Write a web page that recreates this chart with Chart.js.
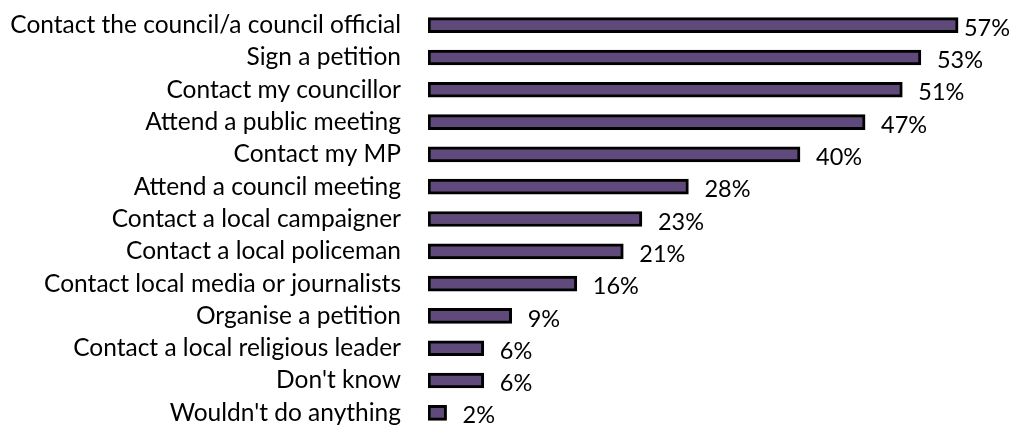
<!DOCTYPE html>
<html>
<head>
<meta charset="utf-8">
<script src="https://cdn.jsdelivr.net/npm/chart.js@4.4.1/dist/chart.umd.min.js"></script>
<style>
  html, body { margin: 0; padding: 0; background: #fff; overflow: hidden; width: 1015px; height: 428px; }
  #wrap { position: relative; width: 1015px; height: 440px; }
</style>
</head>
<body>
<div id="wrap"><canvas id="chart"></canvas></div>
<script>
// Actions people would take on a local issue (% of respondents)
const categories = [
  "Contact the council/a council official",
  "Sign a petition",
  "Contact my councillor",
  "Attend a public meeting",
  "Contact my MP",
  "Attend a council meeting",
  "Contact a local campaigner",
  "Contact a local policeman",
  "Contact local media or journalists",
  "Organise a petition",
  "Contact a local religious leader",
  "Don't know",
  "Wouldn't do anything"
];
const percentValues = [57, 53, 51, 47, 40, 28, 23, 21, 16, 9, 6, 6, 2];
const valueLabels = percentValues.map(v => v + "%");

const FONT_FAMILY = "Lato, 'Open Sans', sans-serif";

// Writes the percentage just past the end of each bar
const valueLabelPlugin = {
  id: "valueLabels",
  afterDatasetsDraw(chart) {
    const ctx = chart.ctx;
    const meta = chart.getDatasetMeta(0);
    ctx.save();
    ctx.font = "23.5px " + FONT_FAMILY;
    ctx.fillStyle = "#000";
    ctx.textAlign = "left";
    ctx.textBaseline = "middle";
    meta.data.forEach((bar, i) => {
      const text = valueLabels[i];
      const w = ctx.measureText(text).width;
      let x = bar.x + 16;
      if (x + w > chart.width - 5) x = chart.width - 5 - w;
      ctx.fillText(text, x, bar.y + 3);
    });
    ctx.restore();
  }
};

new Chart(document.getElementById("chart"), {
  type: "bar",
  data: {
    labels: categories,
    datasets: [{
      data: percentValues,
      backgroundColor: "#604A7B",
      borderColor: "#000000",
      borderWidth: 3,
      borderSkipped: false,
      barThickness: 15
    }]
  },
  options: {
    indexAxis: "y",
    responsive: true,
    maintainAspectRatio: false,
    animation: false,
    layout: { padding: { left: 0, right: 29, top: 9, bottom: 11 } },
    plugins: { legend: { display: false }, tooltip: { enabled: false } },
    scales: {
      x: { type: "linear", min: 0, max: 60, display: false },
      y: {
        type: "category",
        grid: { display: false, drawTicks: false },
        border: { display: false },
        ticks: {
          color: "#000",
          font: { family: FONT_FAMILY, size: 24.5 },
          padding: 27,
          autoSkip: false
        },
        afterFit(scale) {
          // fixed axis width; the horizontal tick padding should not add vertical margin
          scale.width = 428;
          scale.paddingTop = 0;
          scale.paddingBottom = 0;
        }
      }
    }
  },
  plugins: [valueLabelPlugin]
});
</script>
</body>
</html>
